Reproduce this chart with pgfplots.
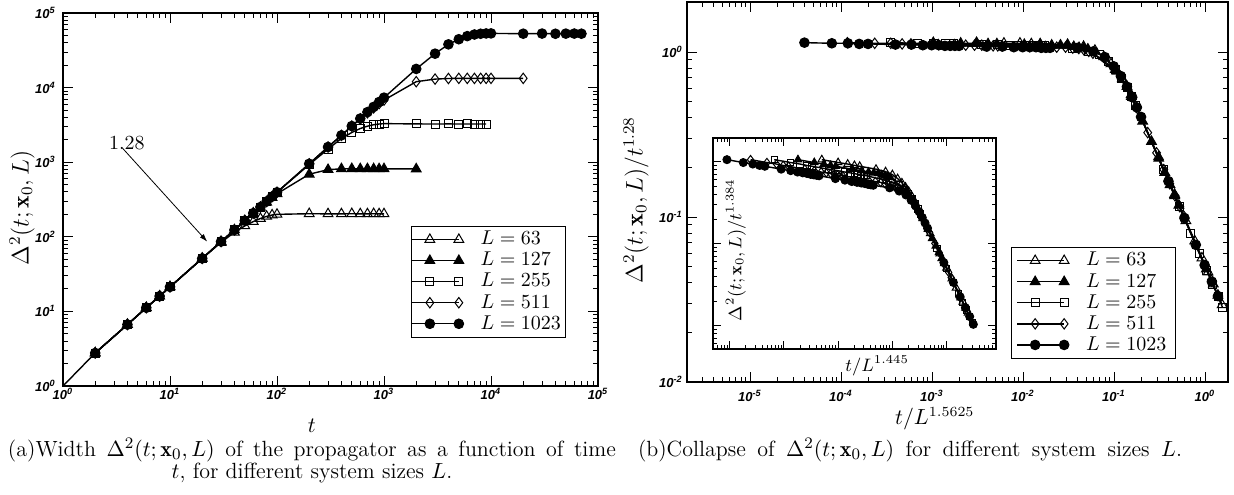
\documentclass[border=0pt]{standalone}
\usepackage{fontspec}
\usepackage{pgfplots}
\pgfplotsset{compat=1.18}
\usetikzlibrary{arrows.meta}
\newfontfamily\tickfont{Liberation Sans}
\newcommand{\TL}[1]{{\tickfont\bfseries\itshape 10\textsuperscript{#1}}}

\pgfplotsset{
  legend image code/.code={\path (0pt,0pt) -- (9pt,0pt); \draw[mark repeat=1,mark phase=1] plot coordinates {(9pt,0pt) (23.5pt,0pt)};},
}
\tikzset{
  sA/.style={black, line width=0.7pt, mark=triangle, mark size=2.8pt, mark options={solid, fill=white, line width=0.5pt}},
  sB/.style={black, line width=0.7pt, mark=triangle*, mark size=2.8pt, mark options={solid, fill=black, line width=0.5pt}},
  sC/.style={black, line width=0.7pt, mark=square, mark size=2pt, mark options={solid, fill=white, line width=0.5pt}},
  sD/.style={black, line width=0.7pt, mark=diamond, mark size=2.6pt, mark options={solid, fill=white, line width=0.5pt}},
  sE/.style={black, line width=0.7pt, mark=*, mark size=2.4pt, mark options={solid, fill=black, line width=0.5pt}},
}

\begin{document}
\begin{tikzpicture}
\useasboundingbox (0,0) rectangle (617pt,247pt);

% ---------------- (a) ----------------
\begin{axis}[
  xmode=log, ymode=log,
  scale only axis,
  at={(31.5pt,54pt)}, anchor=south west, width=267.5pt, height=186.5pt,
  tick align=inside, major tick length=5pt, minor tick length=2.5pt,
  axis line style={line width=0.9pt},
  tick style={line width=0.5pt, black},
  tick label style={font=\fontsize{6.5}{7}\selectfont},
  xmin=1, xmax=1e5, ymin=1, ymax=1e5,
  xtick={1,10,100,1000,10000,100000},
  xticklabels={\TL{0},\TL{1},\TL{2},\TL{3},\TL{4},\TL{5}},
  minor xtick={2,3,4,5,6,7,8,9,20,30,40,50,60,70,80,90,200,300,400,500,600,700,800,900,2000,3000,4000,5000,6000,7000,8000,9000,20000,30000,40000,50000,60000,70000,80000,90000},
  ytick={1,10,100,1000,10000,100000},
  yticklabels={\TL{0},\TL{1},\TL{2},\TL{3},\TL{4},\TL{5}},
  minor ytick={2,3,4,5,6,7,8,9,20,30,40,50,60,70,80,90,200,300,400,500,600,700,800,900,2000,3000,4000,5000,6000,7000,8000,9000,20000,30000,40000,50000,60000,70000,80000,90000},
  xticklabel style={inner sep=1pt},
  yticklabel style={inner sep=3.5pt},
  xlabel={$t$},
  xlabel style={at={(axis description cs:0.465,0)}, anchor=north, yshift=-13pt, font=\fontsize{11}{12}\selectfont},
  ylabel={$\Delta^2(t;\mathbf{x}_0,L)$},
  ylabel style={at={(axis description cs:-0.0766,0.477)}, anchor=center, font=\fontsize{11.8}{13}\selectfont},
  legend cell align=left,
  legend style={at={(0.650,0.429)}, anchor=north west, font=\fontsize{10}{11}\selectfont, draw=black, fill=white, inner xsep=0pt, inner ysep=1.3pt, nodes={inner xsep=2pt, inner ysep=1.1pt, text depth=0.15em}, /tikz/every odd column/.append style={column sep=6.5pt}},
]
\addplot[black, line width=0.7pt, no marks, forget plot] coordinates {(1,1) (2,2.77)};
\addplot[sA] table {
t D
2 2.77
4 6.66
6 11.2
8 16.0
10 21.3
20 51.3
30 84
40 115
50 140
60 160
70 176
80 188
90 196
100 200
200 204
300 203
400 203
500 204
600 203
700 203
800 204
900 203
1000 203
};
\addlegendentry{$L=63$}
\addplot[sB] table {
t D
2 2.77
4 6.66
6 11.2
8 16.0
10 21.3
20 51.3
30 86.3
40 123.6
50 164.5
60 207.7
70 248
80 290
90 335
100 378
200 690
300 795
400 815
500 818
600 815
700 816
800 815
900 814
1000 815
2000 812
};
\addlegendentry{$L=127$}
\addplot[sC] table {
t D
2 2.77
4 6.66
6 11.2
8 16.0
10 21.3
20 51.3
30 86.3
40 123.6
50 164.5
60 207.7
70 250.7
80 297.5
90 345.9
100 395.8
200 930
300 1500
400 2080
500 2500
600 2830
700 3040
800 3180
900 3250
1000 3290
2000 3260
3000 3250
4000 3260
5000 3250
6000 3255
7000 3250
8000 3250
9000 3250
};
\addlegendentry{$L=255$}
\addplot[sD] table {
t D
2 2.77
4 6.66
6 11.2
8 16.0
10 21.3
20 51.3
30 86.3
40 123.6
50 164.5
60 207.7
70 250.7
80 297.5
90 345.9
100 395.8
200 952.3
300 1600
400 2292
500 3051
600 3800
700 4600
800 5350
900 6100
1000 6800
2000 12000
3000 13000
4000 13250
5000 13300
6000 13300
7000 13280
8000 13300
9000 13300
10000 13300
20000 13300
};
\addlegendentry{$L=511$}
\addplot[sE] table {
t D
2 2.77
4 6.66
6 11.2
8 16.0
10 21.3
20 51.3
30 86.3
40 123.6
50 164.5
60 207.7
70 250.7
80 297.5
90 345.9
100 395.8
200 952.3
300 1600
400 2292
500 3051
600 3850
700 4690
800 5514
900 6411
1000 7333
2000 17800
3000 28500
4000 38000
5000 44500
6000 49000
7000 51500
8000 52700
9000 53200
10000 53300
20000 52800
30000 53000
40000 52700
50000 52900
60000 53000
70000 52800
};
\addlegendentry{$L=1023$}
\draw[-{Latex[length=4pt,width=2.6pt]}, line width=0.4pt] (axis cs:3.61,1535) -- (axis cs:22.3,86);
\node[font=\fontsize{10}{12}\selectfont] at (axis cs:3.96,1808) {1.28};
\end{axis}

% ---------------- (b) main ----------------
\begin{axis}[
  xmode=log, ymode=log,
  scale only axis,
  at={(343.5pt,56pt)}, anchor=south west, width=270.5pt, height=190pt,
  tick align=inside, major tick length=5pt, minor tick length=2.5pt,
  axis line style={line width=0.9pt},
  tick style={line width=0.5pt, black},
  tick label style={font=\fontsize{6.5}{7}\selectfont},
  xmin=2.03e-6, xmax=1.79, ymin=0.01, ymax=2.01,
  xtick={1e-5,1e-4,1e-3,1e-2,1e-1,1},
  xticklabels={\TL{-5},\TL{-4},\TL{-3},\TL{-2},\TL{-1},\TL{0}},
  minor xtick={3e-6,4e-6,5e-6,6e-6,7e-6,8e-6,9e-6,2e-5,3e-5,4e-5,5e-5,6e-5,7e-5,8e-5,9e-5,2e-4,3e-4,4e-4,5e-4,6e-4,7e-4,8e-4,9e-4,2e-3,3e-3,4e-3,5e-3,6e-3,7e-3,8e-3,9e-3,0.02,0.03,0.04,0.05,0.06,0.07,0.08,0.09,0.2,0.3,0.4,0.5,0.6,0.7,0.8,0.9},
  ytick={0.01,0.1,1},
  yticklabels={\TL{-2},\TL{-1},\TL{0}},
  minor ytick={0.02,0.03,0.04,0.05,0.06,0.07,0.08,0.09,0.2,0.3,0.4,0.5,0.6,0.7,0.8,0.9},
  xticklabel style={inner sep=4pt},
  yticklabel style={inner sep=2pt},
  xlabel={$t/L^{1.5625}$},
  xlabel style={at={(axis description cs:0.458,0)}, anchor=north, yshift=-9pt, font=\fontsize{10.5}{12}\selectfont},
  ylabel={$\Delta^2(t;\mathbf{x}_0,L)/t^{1.28}$},
  ylabel style={at={(axis description cs:-0.094,0.479)}, anchor=center, font=\fontsize{12}{13}\selectfont},
  legend cell align=left,
  legend style={at={(0.599,0.355)}, anchor=north west, font=\fontsize{10}{11}\selectfont, draw=black, fill=white, inner xsep=2.5pt, inner ysep=1.3pt, nodes={inner xsep=2pt, inner ysep=1.1pt, text depth=0.15em}, /tikz/every odd column/.append style={column sep=6.5pt}},
]
\addplot[sA] table {
x y
3.086e-3 1.14
6.171e-3 1.13
9.257e-3 1.13
1.234e-2 1.12
1.543e-2 1.12
3.086e-2 1.11
4.628e-2 1.080
6.171e-2 1.023
7.714e-2 0.9365
9.257e-2 0.8475
0.1080 0.7652
0.1234 0.6889
0.1388 0.6177
0.1543 0.5508
0.3086 0.2313
0.4628 0.1370
0.6171 0.09477
0.7714 0.07155
0.9257 0.05642
1.080 0.04632
1.234 0.03922
1.388 0.03356
1.543 0.02934
};
\addlegendentry{$L=63$}
\addplot[sB] table {
x y
1.033e-3 1.14
2.065e-3 1.13
3.098e-3 1.13
4.130e-3 1.12
5.163e-3 1.12
1.033e-2 1.11
1.549e-2 1.11
2.065e-2 1.10
2.581e-2 1.10
3.098e-2 1.10
3.614e-2 1.078
4.130e-2 1.063
4.646e-2 1.056
5.163e-2 1.041
0.1033 0.7825
0.1549 0.5364
0.2065 0.3805
0.2581 0.2869
0.3098 0.2265
0.3614 0.1862
0.4130 0.1567
0.4646 0.1346
0.5163 0.1178
1.033 0.04833
};
\addlegendentry{$L=127$}
\addplot[sC] table {
x y
3.474e-4 1.14
6.948e-4 1.13
1.042e-3 1.13
1.390e-3 1.12
1.737e-3 1.12
3.474e-3 1.11
5.211e-3 1.11
6.948e-3 1.10
8.685e-3 1.10
1.042e-2 1.10
1.216e-2 1.09
1.390e-2 1.09
1.563e-2 1.09
1.737e-2 1.09
3.474e-2 1.055
5.211e-2 1.012
6.948e-2 0.9711
8.685e-2 0.8769
0.1042 0.7865
0.1216 0.6936
0.1390 0.6113
0.1563 0.5374
0.1737 0.4756
0.3474 0.1940
0.5211 0.1151
0.6948 0.07991
0.8685 0.05987
1.042 0.04748
1.216 0.03892
1.390 0.03281
1.563 0.02822
};
\addlegendentry{$L=255$}
\addplot[sD] table {
x y
1.174e-4 1.14
2.347e-4 1.13
3.521e-4 1.13
4.695e-4 1.12
5.869e-4 1.12
1.174e-3 1.11
1.761e-3 1.11
2.347e-3 1.10
2.934e-3 1.10
3.521e-3 1.10
4.108e-3 1.09
4.695e-3 1.09
5.282e-3 1.09
5.869e-3 1.09
1.174e-2 1.08
1.761e-2 1.08
2.347e-2 1.07
2.934e-2 1.07
3.521e-2 1.056
4.108e-2 1.050
4.695e-2 1.028
5.282e-2 1.009
5.869e-2 0.9829
0.1174 0.7143
0.1761 0.4606
0.2347 0.3248
0.2934 0.2450
0.3521 0.1940
0.4108 0.1590
0.4695 0.1343
0.5282 0.1155
0.5869 0.1009
1.174 0.04154
};
\addlegendentry{$L=511$}
\addplot[sE] table {
x y
3.964e-5 1.14
7.927e-5 1.13
1.189e-4 1.13
1.585e-4 1.12
1.982e-4 1.12
3.964e-4 1.11
5.945e-4 1.11
7.927e-4 1.10
9.909e-4 1.10
1.189e-3 1.10
1.387e-3 1.09
1.585e-3 1.09
1.784e-3 1.09
1.982e-3 1.09
3.964e-3 1.08
5.945e-3 1.08
7.927e-3 1.07
9.909e-3 1.07
1.189e-2 1.07
1.387e-2 1.07
1.585e-2 1.06
1.784e-2 1.06
1.982e-2 1.06
3.964e-2 1.060
5.945e-2 1.010
7.927e-2 0.9315
9.909e-2 0.8197
0.1189 0.7147
0.1387 0.6167
0.1585 0.5320
0.1784 0.4619
0.1982 0.4043
0.3964 0.1649
0.5945 0.09854
0.7927 0.06779
0.9909 0.05114
1.189 0.04057
1.387 0.03318
};
\addlegendentry{$L=1023$}
\end{axis}

% ---------------- (b) inset ----------------
\begin{axis}[
  xmode=log, ymode=log,
  scale only axis,
  at={(356.5pt,72.5pt)}, anchor=south west, width=141.5pt, height=105.5pt,
  axis background/.style={fill=white},
  tick align=inside, major tick length=4pt, minor tick length=2pt,
  axis line style={line width=0.9pt},
  tick style={line width=0.5pt, black},
  xmin=4.95e-5, xmax=8.2, ymin=0.0052, ymax=1.95,
  xtick={1e-4,1e-3,1e-2,1e-1,1}, xticklabels={},
  minor xtick={5e-5,6e-5,7e-5,8e-5,9e-5,2e-4,3e-4,4e-4,5e-4,6e-4,7e-4,8e-4,9e-4,2e-3,3e-3,4e-3,5e-3,6e-3,7e-3,8e-3,9e-3,0.02,0.03,0.04,0.05,0.06,0.07,0.08,0.09,0.2,0.3,0.4,0.5,0.6,0.7,0.8,0.9,2,3,4,5,6,7,8},
  ytick={0.01,0.1,1}, yticklabels={},
  minor ytick={0.006,0.007,0.008,0.009,0.02,0.03,0.04,0.05,0.06,0.07,0.08,0.09,0.2,0.3,0.4,0.5,0.6,0.7,0.8,0.9},
  xlabel={$t/L^{1.445}$},
  xlabel style={at={(axis description cs:0.58,0)}, anchor=north, yshift=0pt, font=\fontsize{9}{10}\selectfont},
  ylabel={$\Delta^2(t;\mathbf{x}_0,L)/t^{1.384}$},
  ylabel style={at={(axis description cs:0.081,0.469)}, anchor=center, font=\fontsize{9}{10}\selectfont},
]
\addplot[sA, mark size=2.2pt] table {
x y
5.023e-3 1.061
1.005e-2 0.9784
1.507e-2 0.9379
2.009e-2 0.9020
2.511e-2 0.8813
5.023e-2 0.8125
7.534e-2 0.7581
0.1005 0.6974
0.1256 0.6233
0.1507 0.5536
0.1758 0.4919
0.2009 0.4369
0.2260 0.3870
0.2511 0.3409
0.5023 0.1334
0.7534 0.07569
1.005 0.05083
1.256 0.03751
1.507 0.02901
1.758 0.02343
2.009 0.01958
2.260 0.01654
2.511 0.01431
};
\addplot[sB, mark size=2.2pt] table {
x y
1.825e-3 1.061
3.650e-3 0.9784
5.474e-3 0.9379
7.299e-3 0.9020
9.124e-3 0.8813
1.825e-2 0.8125
2.737e-2 0.7790
3.650e-2 0.7498
4.562e-2 0.7322
5.474e-2 0.7186
6.387e-2 0.6931
7.299e-2 0.6739
8.212e-2 0.6614
9.124e-2 0.6443
0.1825 0.4513
0.2737 0.2964
0.3650 0.2041
0.4562 0.1504
0.5474 0.1165
0.6387 0.09418
0.7299 0.07821
0.8212 0.06634
0.9124 0.05743
1.825 0.02193
};
\addplot[sC, mark size=1.6pt] table {
x y
6.658e-4 1.061
1.332e-3 0.9784
1.997e-3 0.9379
2.663e-3 0.9020
3.329e-3 0.8813
6.658e-3 0.8125
9.987e-3 0.7790
1.332e-2 0.7498
1.664e-2 0.7322
1.997e-2 0.7186
2.330e-2 0.7007
2.663e-2 0.6913
2.996e-2 0.6829
3.329e-2 0.6746
6.658e-2 0.6082
9.987e-2 0.5593
0.1332 0.5208
0.1664 0.4597
0.1997 0.4044
0.2330 0.3509
0.2663 0.3052
0.2996 0.2649
0.3329 0.2319
0.6658 0.08806
0.9987 0.05006
1.332 0.03373
1.664 0.02469
1.997 0.01921
2.330 0.01550
2.663 0.01288
2.996 0.01094
};
\addplot[sD, mark size=2.1pt] table {
x y
2.440e-4 1.061
4.880e-4 0.9784
7.320e-4 0.9379
9.760e-4 0.9020
1.220e-3 0.8813
2.440e-3 0.8125
3.660e-3 0.7790
4.880e-3 0.7498
6.100e-3 0.7322
7.320e-3 0.7186
8.540e-3 0.7007
9.760e-3 0.6913
1.098e-2 0.6829
1.220e-2 0.6746
2.440e-2 0.6228
3.660e-2 0.5968
4.880e-2 0.5738
6.100e-2 0.5610
7.320e-2 0.5430
8.540e-2 0.5309
9.760e-2 0.5134
0.1098 0.4971
0.1220 0.4792
0.2440 0.3241
0.3660 0.2003
0.4880 0.1371
0.6100 0.1011
0.7320 0.07851
0.8540 0.06333
0.9760 0.05272
1.098 0.04479
1.220 0.03871
2.440 0.01483
};
\addplot[sE, mark size=2pt] table {
x y
8.949e-5 1.061
1.790e-4 0.9784
2.685e-4 0.9379
3.579e-4 0.9020
4.474e-4 0.8813
8.949e-4 0.8125
1.342e-3 0.7790
1.790e-3 0.7498
2.237e-3 0.7322
2.685e-3 0.7186
3.132e-3 0.7007
3.579e-3 0.6913
4.027e-3 0.6829
4.474e-3 0.6746
8.949e-3 0.6228
1.342e-2 0.5968
1.790e-2 0.5738
2.237e-2 0.5610
2.685e-2 0.5501
3.132e-2 0.5413
3.579e-2 0.5292
4.027e-2 0.5225
4.474e-2 0.5168
8.949e-2 0.4808
0.1342 0.4390
0.1790 0.3932
0.2237 0.3381
0.2685 0.2892
0.3132 0.2456
0.3579 0.2089
0.4027 0.1792
0.4474 0.1551
0.8949 0.05888
1.342 0.03372
1.790 0.02252
2.237 0.01660
2.685 0.01292
3.132 0.01040
};
\end{axis}

% ---------------- captions ----------------
\node[anchor=base, inner sep=0pt, font=\fontsize{11}{11}\selectfont] at (156pt,18.8pt)
  {\makebox[304pt][s]{(a)Width $\Delta^2(t;\mathbf{x}_0,L)$ of the propagator as a function of time}};
\node[anchor=base, inner sep=0pt, font=\fontsize{11}{11}\selectfont] at (156pt,7.6pt)
  {$t$, for different system sizes $L$.};
\node[anchor=base, inner sep=0pt, font=\fontsize{11}{11}\selectfont] at (455pt,18.8pt)
  {\makebox[272pt][s]{(b)Collapse of $\Delta^2(t;\mathbf{x}_0,L)$ for different system sizes $L$.}};
\end{tikzpicture}
\end{document}
